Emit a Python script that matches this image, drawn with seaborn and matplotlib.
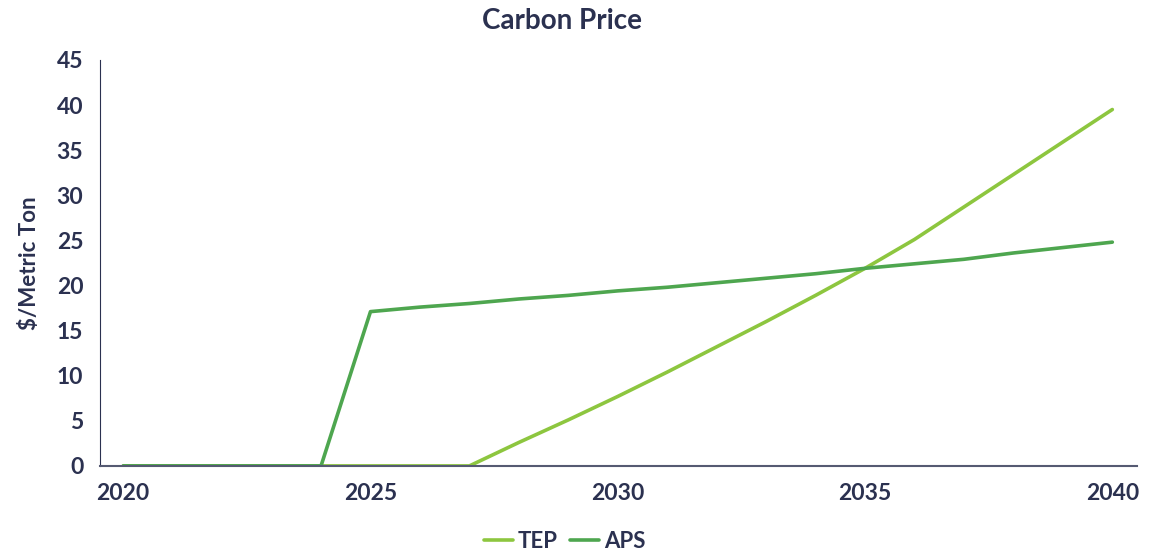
## Carbon price scenarios (TEP vs APS)
import pandas as pd
import seaborn as sns
import matplotlib.pyplot as plt

years = list(range(2020, 2041))
tep = [0, 0, 0, 0, 0, 0, 0, 0, 2.6, 5.1, 7.7, 10.4, 13.2, 16.0, 18.9, 21.9,
       25.1, 28.7, 32.3, 35.9, 39.5]
aps = [0, 0, 0, 0, 0, 17.1, 17.6, 18.0, 18.5, 18.9, 19.4, 19.8, 20.3, 20.8,
       21.3, 21.9, 22.4, 22.9, 23.6, 24.2, 24.8]
series = ['TEP', 'APS']
colors = ['#8dc63f', '#4ea64f']
yticks = list(range(0, 50, 5))
xticks = [2020, 2025, 2030, 2035, 2040]

df = pd.DataFrame({'Year': years * 2,
                   'Price': tep + aps,
                   'Scenario': ['TEP'] * len(years) + ['APS'] * len(years)})

sns.set_style('white')
plt.rcParams['font.family'] = ['Lato', 'DejaVu Sans']
navy = '#2b3150'

fig = plt.figure(figsize=(11.49, 5.54), dpi=100)
ax = fig.add_axes([0.087, 0.159, 0.9026, 0.7329])

sns.lineplot(data=df, x='Year', y='Price', hue='Scenario', hue_order=series,
             palette=colors, linewidth=2.6, ax=ax)

ax.set_xlim(2019.53, 2040.5)
ax.set_ylim(0, 45)
ax.set_xticks(xticks)
ax.set_yticks(yticks)
ax.tick_params(length=0, labelsize=16.5, colors=navy, pad=12)
for lab in ax.get_xticklabels() + ax.get_yticklabels():
    lab.set_fontweight('bold')

sns.despine(ax=ax)
ax.spines['left'].set_color(navy)
ax.spines['left'].set_linewidth(0.8)
ax.spines['bottom'].set_color('#555a72')
ax.spines['bottom'].set_linewidth(1.5)

ax.set_xlabel('')
ax.set_ylabel('$/Metric Ton', fontsize=16, fontweight='bold', color=navy, labelpad=12)

fig.text(0.489, 0.962, 'Carbon Price', ha='center', va='center',
         fontsize=20, fontweight='bold', color=navy)

leg = ax.legend(loc='center', bbox_to_anchor=(0.448, -0.185), ncol=2, frameon=False,
                fontsize=16, handlelength=1.3, handletextpad=0.2, columnspacing=0.6)
for t in leg.get_texts():
    t.set_color(navy)
    t.set_fontweight('bold')

fig.savefig('out.png', dpi=100)
